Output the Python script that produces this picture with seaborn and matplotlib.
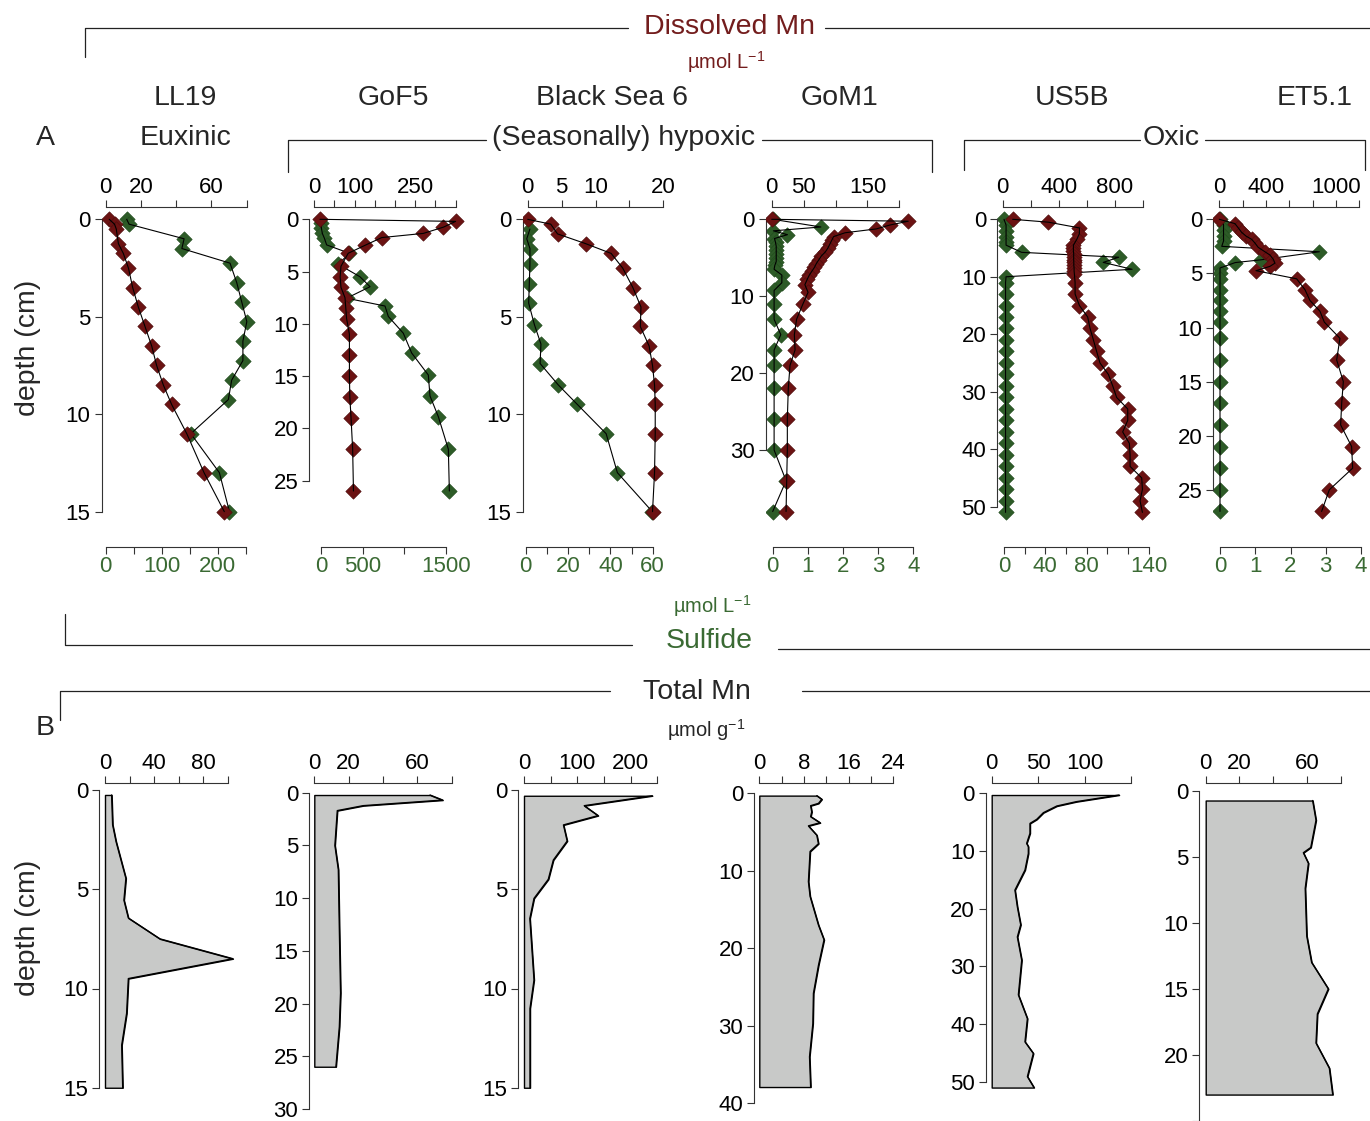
import numpy as np
import pandas as pd
import matplotlib
matplotlib.use("Agg")
import matplotlib.pyplot as plt
import seaborn as sns

# ---------------- data: dissolved Mn (umol/L) and sulfide (umol/L) ----------------
ll19_mn_depth = [0, 0.25, 0.5, 1.25, 1.75, 2.5, 3.5, 4.5, 5.5, 6.5, 7.5, 8.5, 9.5, 11, 13, 15]
ll19_mn = [2, 5, 6, 7.2, 10, 12.9, 15.3, 18.5, 22.3, 26.1, 28.9, 32.7, 37.4, 46, 55.8, 67.3]
ll19_s_depth = [0, 0.25, 1.0, 1.5, 2.25, 3.25, 4.25, 5.25, 6.25, 7.25, 8.25, 9.25, 11, 13, 15]
ll19_s = [37.5, 41.7, 140, 136, 222, 234, 243, 252, 245, 245, 225, 219, 152, 203, 221]

gof5_mn_depth = [0, 0.2, 0.75, 1.35, 1.75, 2.5, 3.25, 4.5, 5.5, 6.5, 7.5, 8.5, 9.5, 11, 13, 15, 17, 19, 22, 26]
gof5_mn = [14, 350, 320, 270, 167, 125, 84, 66, 64, 66, 76, 78, 80, 87, 87, 87, 88, 91, 95, 97]
gof5_s_depth = [0.4, 0.85, 1.35, 1.8, 2.45, 3.25, 4.3, 5.5, 6.45, 7.55, 8.3, 9.3, 10.9, 12.8, 14.9, 16.9, 18.9, 22, 26]
gof5_s = [0, 5, 16, 40, 68, 341, 208, 469, 590, 309, 770, 810, 990, 1091, 1291, 1311, 1412, 1532, 1544]

bs_mn_depth = [0, 0.25, 0.75, 1.25, 1.75, 2.5, 3.5, 4.5, 5.5, 6.5, 7.5, 8.5, 9.5, 11, 13, 15]
bs_mn = [0, 3.4, 4.4, 8.55, 12.3, 14.0, 15.5, 16.7, 16.6, 17.9, 18.4, 18.7, 18.8, 18.8, 18.7, 18.4]
bs_s_depth = [0.5, 1.0, 1.5, 2.3, 3.3, 4.3, 5.4, 6.4, 7.4, 8.5, 9.5, 11, 13, 15]
bs_s = [2.0, 0.5, 2.0, 2.0, 1.7, 1.4, 4.1, 7.2, 6.8, 15.4, 24.4, 38, 43.3, 59.8]

gom_mn_depth = [0, 0.25, 0.75, 1.25, 1.75, 2.25, 2.75, 3.25, 3.75, 4.25, 4.75, 5.25, 5.75, 6.25,
                6.75, 7.25, 7.75, 8.5, 9.5, 11, 13, 15, 17, 19, 22, 26, 30, 34, 38]
gom_mn = [0, 214, 185, 164, 115, 97, 94, 91, 88, 84, 78, 74, 70, 67,
          63, 59, 56, 52, 57, 49, 39, 35.5, 36.6, 28.7, 26, 24.5, 24.5, 23.5, 22.5]
gom_s_depth = [0, 1.0, 1.5, 2.0, 2.5, 3.0, 3.5, 4.0, 4.5, 5.0, 5.5, 6.0, 6.5, 7.25, 8.25, 9.25,
               11, 13, 15, 17, 19, 22, 26, 30, 34, 38]
gom_s = [0, 1.37, 0.02, 0.42, 0.05, 0.08, 0.1, 0.1, 0.1, 0.1, 0.1, 0.06, 0.04, 0.26, 0.26, 0.04,
         0.04, 0.04, 0.23, 0.04, 0.04, 0.04, 0.04, 0.04, 0.38, 0.0]

us_mn_depth = [0, 0.5, 1.5, 2.5, 3.5, 4.5, 5, 5.5, 6, 6.5, 7, 7.5, 8, 8.5, 9, 9.5, 11, 13, 15, 17,
               19, 21, 23, 25, 27, 29, 31, 33, 35, 37, 39, 41, 43, 45, 47, 49, 51]
us_mn = [71, 326, 548, 548, 529, 505, 505, 505, 507, 507, 507, 508, 508, 510, 510, 512, 517, 517, 548, 607,
         624, 648, 671, 695, 755, 786, 814, 893, 893, 857, 905, 910, 910, 993, 998, 981, 998]
us_s_depth = [0, 1, 2, 3, 4, 4.5, 5.75, 6.6, 7.5, 8.7, 10, 11, 13, 15, 17, 19, 21, 23, 25, 27, 29,
              31, 33, 35, 37, 39, 41, 43, 45, 47, 49, 51]
us_s = [0, 2, 2, 2, 2, 2, 17, 111, 96, 124, 2, 1.5, 1.5, 1.5, 1.5, 1.5, 1.5, 1.5, 1.5, 1.5, 1.5,
        1.5, 1.5, 1.5, 1.5, 1.5, 1.5, 1.5, 1.5, 1.5, 1.5, 1.5]

et_mn_depth = [0, 0.4, 0.8, 1.2, 1.55, 1.85, 2.2, 2.6, 3.0, 3.3, 3.7, 4.05, 4.35, 4.75, 5.5, 6.5,
               7.5, 8.5, 9.5, 11, 13, 15, 17, 19, 21, 23, 25, 27]
et_mn = [0, 134, 163, 191, 229, 277, 306, 334, 391, 434, 463, 477, 434, 314, 663, 734,
         777, 863, 900, 1034, 1006, 1063, 1049, 1040, 1134, 1143, 943, 877]
et_s_depth = [0, 0.5, 1.0, 1.5, 2.0, 2.5, 3.0, 3.75, 4.0, 4.5, 5.0, 5.5, 6.5, 7.5, 8.5, 9.5,
              11, 13, 15, 17, 19, 21, 23, 25, 27]
et_s = [0, 0.1, 0.1, 0.1, 0.1, 0.05, 2.82, 1.15, 0.43, 0, 0, 0, 0, 0, 0, 0,
        0, 0, 0, 0, 0, 0, 0, 0, 0]

# ---------------- data: total Mn (umol/g) ----------------
ll19_t_depth = [0.25, 1.75, 2.6, 4.45, 5.55, 6.45, 7.5, 8.5, 9.5, 11.25, 12.85, 15]
ll19_t = [5.4, 6.2, 9, 17, 15.4, 19, 44.7, 104, 19, 17.6, 13.6, 14.4]
gof5_t_depth = [0.22, 0.7, 1.23, 1.7, 5, 7.3, 13, 19, 22.2, 26]
gof5_t = [67.4, 74.8, 28.5, 13.4, 12, 14, 14.6, 15.3, 14.6, 12.6]
bs_t_depth = [0.29, 0.79, 1.29, 1.76, 2.57, 3.53, 4.5, 5.46, 6.47, 9.57, 11, 15]
bs_t = [240.6, 113, 139, 74, 81, 55, 45.6, 18.8, 11, 18.8, 11.3, 11.3]
gom_t_depth = [0.3, 0.77, 1.3, 1.6, 2.4, 3, 3.8, 4.2, 5.4, 6.5, 7.5, 11.4, 13.3, 17, 18.9, 22.2,
               25.8, 29.7, 34, 37.9]
gom_t = [10.3, 11.2, 10.6, 9.2, 9.4, 9.2, 10.9, 8.8, 10.3, 10.6, 9.1, 8.8, 9.1, 10.6, 11.6, 10.6,
         9.7, 9.6, 9, 9.2]
us_t_depth = [0.4, 1.55, 2.3, 3.45, 4.6, 5.3, 7, 8.75, 9.3, 10.5, 13.35, 16.8, 19.7, 22.8, 24.9,
              28.9, 34.9, 39, 43, 45, 49, 50.9]
us_t = [137, 91, 70, 55.6, 48.4, 41.2, 41.2, 37.6, 39.4, 39.4, 35.8, 25, 27.6, 31.2, 27.6,
        32.3, 28.7, 38.4, 35.8, 44.8, 38.4, 45.5]
et_t_depth = [0.75, 2.24, 4.3, 4.7, 5.5, 7.4, 11, 13, 15, 16.9, 19.1, 21, 23]
et_t = [63.4, 65.4, 62.3, 57.9, 60.9, 59, 59.9, 62.8, 72.7, 66.2, 65.4, 73.3, 75.3]

stations = ["LL19", "GoF5", "Black Sea 6", "GoM1", "US5B", "ET5.1"]

# ---------------- style ----------------
sns.set_style("ticks")
plt.rcParams["font.family"] = ["Liberation Sans", "DejaVu Sans"]
plt.rcParams["mathtext.default"] = "regular"

W, H = 1370, 1121
fig = plt.figure(figsize=(W / 100, H / 100), dpi=100)

RED = "#6b1212"
GREEN = "#2d5b27"
RED_TXT = "#731d1d"
GREEN_TXT = "#3a6a33"
LINEC = "#222222"
TFS = 16
HFS = 20.5


def px_ax(left, right, top, bottom):
    return fig.add_axes([left / W, 1 - bottom / H, (right - left) / W, (bottom - top) / H])


def lims(lo_px, hi_px, zero_px, scale):
    return ((lo_px - zero_px) / scale, (hi_px - zero_px) / scale)


def fmt_labels(ticks, shown):
    return [(f"{t:g}" if t in shown else "") for t in ticks]


def style_tick(ax, axis, color="black"):
    ax.tick_params(axis=axis, direction="out", length=5, width=0.8, labelsize=TFS,
                   labelcolor=color, color="#333333")


# top row geometry
TOP_SP, BOT_SP, Y0_TOP = 206.7, 546.5, 219.3
top_cfg = [
    dict(ysp=101.7, mn=(105.7, 1.7625, np.arange(0, 81, 20), [0, 20, 60]),
         s=(105.7, 0.56, np.arange(0, 251, 50), [0, 100, 200]), ys=19.49, yt=np.arange(0, 16, 5),
         data=(ll19_mn, ll19_mn_depth, ll19_s, ll19_s_depth)),
    dict(ysp=309.3, mn=(314.3, 0.4037, np.arange(0, 351, 50), [0, 100, 250]),
         s=(321.0, 0.08313, np.arange(0, 1501, 500), [0, 500, 1500]), ys=10.45, yt=np.arange(0, 26, 5),
         data=(gof5_mn, gof5_mn_depth, gof5_s, gof5_s_depth)),
    dict(ysp=522.7, mn=(527.7, 6.783, np.arange(0, 21, 5), [0, 5, 10, 20]),
         s=(525.7, 2.117, np.arange(0, 61, 10), [0, 20, 40, 60]), ys=19.49, yt=np.arange(0, 16, 5),
         data=(bs_mn, bs_mn_depth, bs_s, bs_s_depth)),
    dict(ysp=765.7, mn=(771.7, 0.638, np.arange(0, 201, 50), [0, 50, 150]),
         s=(772.7, 35.17, np.arange(0, 5, 1), [0, 1, 2, 3, 4]), ys=7.69, yt=np.arange(0, 31, 10),
         data=(gom_mn, gom_mn_depth, gom_s, gom_s_depth)),
    dict(ysp=997.3, mn=(1002.7, 0.14, np.arange(0, 1001, 200), [0, 400, 800]),
         s=(1004.0, 1.0333, np.arange(0, 141, 20), [0, 40, 80, 140]), ys=5.747, yt=np.arange(0, 51, 10),
         data=(us_mn, us_mn_depth, us_s, us_s_depth)),
    dict(ysp=1213.3, mn=(1219.3, 0.11667, np.arange(0, 1201, 200), [0, 400, 1000]),
         s=(1220.0, 35.25, np.arange(0, 5, 1), [0, 1, 2, 3, 4]), ys=10.82, yt=np.arange(0, 26, 5),
         data=(et_mn, et_mn_depth, et_s, et_s_depth)),
]

for cfg in top_cfg:
    mn0, mnsc, mnt, mnshow = cfg["mn"]
    s0, ssc, st, sshow = cfg["s"]
    right = max(mn0 + mnt[-1] * mnsc, s0 + st[-1] * ssc) + 12
    left = cfg["ysp"]
    ax = px_ax(left, right, TOP_SP, BOT_SP)
    mn, mnd, s, sd = cfg["data"]
    # sulfide on main axes (bottom x axis)
    sns.scatterplot(x=s, y=sd, ax=ax, marker="D", s=62, color=GREEN, edgecolor="#1f4a1c",
                    linewidth=0.4, zorder=2)
    sns.lineplot(x=s, y=sd, ax=ax, sort=False, estimator=None, color="black", lw=0.8, zorder=3)
    ax.set_xlim(*lims(left, right, s0, ssc))
    ylo, yhi = lims(TOP_SP, BOT_SP, Y0_TOP, cfg["ys"])
    ax.set_ylim(yhi, ylo)
    ax.set_xticks(st)
    ax.set_xticklabels(fmt_labels(st, sshow))
    ax.set_yticks(cfg["yt"])
    ax.set_yticklabels([f"{t:g}" for t in cfg["yt"]])
    ax.set_xlabel("")
    ax.set_ylabel("")
    for sp in ["top", "right"]:
        ax.spines[sp].set_visible(False)
    ax.spines["bottom"].set_bounds(st[0], st[-1])
    ax.spines["left"].set_bounds(cfg["yt"][0], cfg["yt"][-1])
    for sp in ["bottom", "left"]:
        ax.spines[sp].set_linewidth(0.8)
        ax.spines[sp].set_color("#333333")
    style_tick(ax, "x", GREEN_TXT)
    style_tick(ax, "y")
    ax.tick_params(axis="x", pad=2)
    ax.tick_params(axis="y", pad=3)
    ax.patch.set_visible(False)

    # dissolved Mn on twin axes (top x axis)
    ax2 = ax.twiny()
    sns.scatterplot(x=mn, y=mnd, ax=ax2, marker="D", s=62, color=RED, edgecolor="#4a0b0b",
                    linewidth=0.4, zorder=2)
    sns.lineplot(x=mn, y=mnd, ax=ax2, sort=False, estimator=None, color="black", lw=0.8, zorder=3)
    ax2.set_xlim(*lims(left, right, mn0, mnsc))
    ax2.set_ylim(yhi, ylo)
    ax2.set_xticks(mnt)
    ax2.set_xticklabels(fmt_labels(mnt, mnshow))
    ax2.set_xlabel("")
    ax2.set_ylabel("")
    for sp in ["bottom", "left", "right"]:
        ax2.spines[sp].set_visible(False)
    ax2.spines["top"].set_bounds(mnt[0], mnt[-1])
    ax2.spines["top"].set_linewidth(0.8)
    ax2.spines["top"].set_color("#333333")
    style_tick(ax2, "x")
    ax2.tick_params(axis="x", pad=1.5)

# bottom row geometry
TOP_SP_B, BOT_B = 783.3, 1121
bot_cfg = [
    dict(ysp=99.3, x=(105.0, 1.23, np.arange(0, 101, 20), [0, 40, 80]), y0=790.0, ys=19.85,
         yt=np.arange(0, 16, 5), yshow=[0, 5, 10, 15], data=(ll19_t, ll19_t_depth)),
    dict(ysp=309.3, x=(314.3, 1.717, np.arange(0, 81, 20), [0, 20, 60]), y0=792.7, ys=10.54,
         yt=np.arange(0, 31, 5), yshow=[0, 5, 10, 15, 20, 25, 30], data=(gof5_t, gof5_t_depth)),
    dict(ysp=518.3, x=(524.0, 0.5333, np.arange(0, 251, 50), [0, 100, 200]), y0=790.0, ys=19.85,
         yt=np.arange(0, 16, 5), yshow=[0, 5, 10, 15], data=(bs_t, bs_t_depth)),
    dict(ysp=754.3, x=(759.3, 5.583, np.arange(0, 25, 4), [0, 8, 16, 24]), y0=793.3, ys=7.75,
         yt=np.arange(0, 41, 10), yshow=[0, 10, 20, 30, 40], data=(gom_t, gom_t_depth)),
    dict(ysp=986.0, x=(991.7, 0.93, np.arange(0, 151, 50), [0, 50, 100]), y0=792.7, ys=5.793,
         yt=np.arange(0, 51, 10), yshow=[0, 10, 20, 30, 40, 50], data=(us_t, us_t_depth)),
    dict(ysp=1199.3, x=(1205.7, 1.687, np.arange(0, 81, 20), [0, 20, 60]), y0=790.7, ys=13.38,
         yt=np.arange(0, 26, 5), yshow=[0, 5, 10, 15, 20], data=(et_t, et_t_depth)),
]

for cfg in bot_cfg:
    x0, xsc, xt, xshow = cfg["x"]
    left = cfg["ysp"]
    right = x0 + xt[-1] * xsc + 12
    ax = px_ax(left, right, TOP_SP_B, BOT_B)
    vals, dep = cfg["data"]
    ax.fill_betweenx(dep, 0, vals, facecolor="#c8c9c8", edgecolor="black", linewidth=1.0, zorder=2)
    sns.lineplot(x=vals, y=dep, ax=ax, sort=False, estimator=None, color="black", lw=1.0, zorder=3)
    ax.set_xlim(*lims(left, right, x0, xsc))
    ylo, yhi = lims(TOP_SP_B, BOT_B, cfg["y0"], cfg["ys"])
    ax.set_ylim(yhi, ylo)
    ax.xaxis.tick_top()
    ax.set_xticks(xt)
    ax.set_xticklabels(fmt_labels(xt, xshow))
    ax.set_yticks(cfg["yt"])
    ax.set_yticklabels(fmt_labels(cfg["yt"], cfg["yshow"]))
    ax.set_xlabel("")
    ax.set_ylabel("")
    for sp in ["bottom", "right"]:
        ax.spines[sp].set_visible(False)
    ax.spines["top"].set_bounds(xt[0], xt[-1])
    ax.spines["left"].set_bounds(cfg["yt"][0], cfg["yt"][-1])
    for sp in ["top", "left"]:
        ax.spines[sp].set_linewidth(0.8)
        ax.spines[sp].set_color("#333333")
    style_tick(ax, "x")
    style_tick(ax, "y")
    ax.tick_params(axis="x", pad=1.5)
    ax.tick_params(axis="y", pad=3)
    ax.patch.set_visible(False)


# ---------------- annotations ----------------
def ftext(x, y, s, **kw):
    fig.text(x / W, 1 - y / H, s, ha="center", va="center", **kw)


def fline(xs, ys, **kw):
    fig.add_artist(plt.Line2D([x / W for x in xs], [1 - y / H for y in ys],
                              color=LINEC, lw=0.9, **kw))


ftext(730, 27, "Dissolved Mn", fontsize=HFS, color=RED_TXT)
ftext(726, 62, r"µmol L$^{-1}$", fontsize=TFS - 1.5, color=RED_TXT)
fline([85, 85, 628], [57, 28, 28])
fline([825, 1370], [28, 28])

for name, xc in zip(stations, [185, 393, 612, 840, 1072, 1315]):
    ftext(xc, 98, name, fontsize=HFS)

ftext(45, 138, "A", fontsize=HFS)
ftext(185, 138, "Euxinic", fontsize=HFS)
ftext(623, 138, "(Seasonally) hypoxic", fontsize=HFS)
fline([288, 288, 486], [172, 140, 140])
fline([762, 932, 932], [140, 140, 172])
ftext(1171, 138, "Oxic", fontsize=HFS)
fline([964, 964, 1140], [170, 140, 140])
fline([1205, 1365, 1365], [140, 140, 170])

ftext(712, 606, r"µmol L$^{-1}$", fontsize=TFS - 1.5, color=GREEN_TXT)
ftext(709, 641, "Sulfide", fontsize=HFS, color=GREEN_TXT)
fline([65, 65, 632], [614, 645, 645])
fline([778, 1370], [649, 649])

ftext(697, 692, "Total Mn", fontsize=HFS)
ftext(706, 730, r"µmol g$^{-1}$", fontsize=TFS - 1.5)
ftext(45, 728, "B", fontsize=HFS)
fline([60, 60, 610], [720, 691, 691])
fline([802, 1370], [691, 691])

ftext(28, 348, "depth (cm)", fontsize=HFS, rotation=90)
ftext(28, 928, "depth (cm)", fontsize=HFS, rotation=90)

fig.savefig("out.png", dpi=100)
